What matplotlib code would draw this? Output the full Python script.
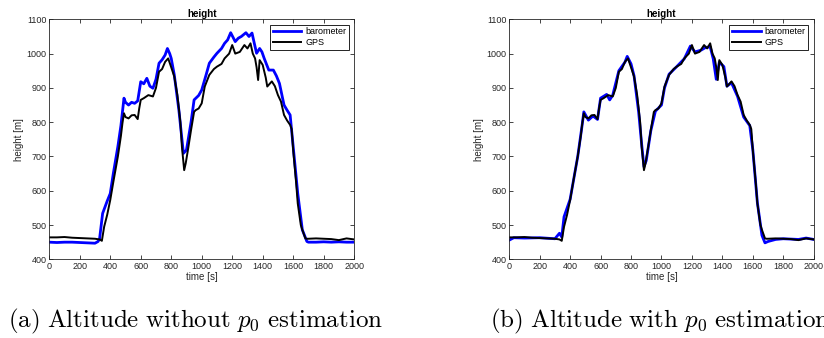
import matplotlib
matplotlib.use("Agg")
import matplotlib.pyplot as plt

plt.rcParams['font.family'] = ['Liberation Sans', 'DejaVu Sans']
plt.rcParams['mathtext.fontset'] = 'cm'

# GPS height (same in both panels)
t_gps = [0, 50, 100, 150, 200, 250, 300, 330, 345, 360, 380, 400, 420, 450, 470,
         480, 490, 500, 520, 540, 560, 580, 590, 600, 620, 650, 680, 700, 720, 740,
         760, 780, 800, 820, 840, 860, 870, 885, 895, 910, 930, 950, 960, 980, 1000,
         1020, 1050, 1080, 1100, 1130, 1150, 1180, 1200, 1220, 1250, 1280, 1300, 1320,
         1335, 1350, 1360, 1370, 1380, 1400, 1420, 1430, 1460, 1480, 1500, 1520, 1540,
         1560, 1580, 1590, 1600, 1620, 1630, 1650, 1660, 1680, 1690, 1700, 1750, 1800,
         1850, 1900, 1950, 2000]
h_gps = [464, 464, 465, 463, 462, 461, 460, 458, 454, 495, 530, 573, 625, 700, 760,
         797, 826, 815, 811, 820, 821, 809, 840, 865, 870, 879, 875, 900, 947, 955,
         976, 986, 960, 933, 880, 800, 729, 660, 680, 720, 777, 830, 835, 840, 855,
         904, 938, 955, 962, 970, 986, 1000, 1025, 1000, 1005, 1025, 1015, 1030,
         1000, 986, 960, 923, 981, 967, 930, 904, 919, 905, 879, 860, 821, 805, 792,
         780, 719, 620, 563, 500, 486, 461, 460, 460, 461, 460, 459, 456, 461, 458]

# barometer without p0 estimation
t_baro_a = [0, 50, 100, 150, 200, 250, 300, 320, 330, 350, 380, 400, 420, 450, 470,
            490, 500, 520, 540, 560, 580, 600, 620, 640, 660, 680, 700, 720, 740, 760,
            775, 790, 800, 820, 850, 880, 900, 930, 950, 980, 1000, 1030, 1050, 1080,
            1100, 1130, 1150, 1170, 1190, 1220, 1240, 1260, 1290, 1310, 1330, 1345,
            1360, 1380, 1395, 1410, 1440, 1470, 1490, 1510, 1540, 1560, 1580, 1600,
            1630, 1660, 1690, 1700, 1750, 1800, 1850, 1900, 1950, 2000]
h_baro_a = [450, 449, 450, 450, 449, 448, 447, 452, 460, 534, 570, 592, 650, 729, 790,
            870, 858, 850, 858, 855, 862, 918, 912, 928, 905, 899, 925, 972, 982, 996,
            1015, 1000, 986, 938, 836, 709, 719, 800, 865, 878, 894, 940, 972, 990,
            1001, 1015, 1030, 1040, 1061, 1035, 1045, 1050, 1061, 1050, 1060, 1030,
            1001, 1015, 1005, 986, 952, 952, 935, 913, 850, 835, 821, 729, 592, 486,
            452, 450, 450, 451, 450, 451, 450, 450]

# barometer with p0 estimation
t_baro_b = [0, 30, 100, 200, 300, 330, 345, 360, 400, 450, 480, 490, 520, 550, 580,
            600, 640, 660, 680, 720, 760, 775, 800, 820, 850, 870, 885, 900, 930, 960,
            1000, 1020, 1050, 1100, 1150, 1190, 1220, 1260, 1290, 1320, 1340, 1360,
            1380, 1410, 1430, 1460, 1500, 1540, 1580, 1600, 1630, 1660, 1680, 1700,
            1750, 1800, 1900, 1950, 2000]
h_baro_b = [456, 463, 462, 463, 460, 476, 465, 524, 575, 700, 795, 830, 806, 818, 808,
            870, 881, 865, 879, 950, 975, 992, 970, 935, 830, 735, 670, 688, 775, 832,
            850, 900, 940, 962, 985, 1022, 1005, 1010, 1018, 1020, 985, 925, 975, 962,
            905, 915, 875, 815, 790, 720, 565, 470, 448, 452, 458, 460, 458, 462, 458]

fig = plt.figure(figsize=(8.24, 3.38), dpi=100)
ax_a = fig.add_axes([0.0598, 0.2328, 0.370, 0.710])
ax_b = fig.add_axes([0.618, 0.2328, 0.3695, 0.710])

grey = (0.15, 0.15, 0.15)
for ax, tb, hb in [(ax_a, t_baro_a, h_baro_a), (ax_b, t_baro_b, h_baro_b)]:
    ax.plot(tb, hb, color='blue', linewidth=2.0, label='barometer')
    ax.plot(t_gps, h_gps, color='black', linewidth=1.4, label='GPS')
    ax.set_xlim(0, 2000)
    ax.set_ylim(400, 1100)
    ax.set_xticks(range(0, 2001, 200))
    ax.set_yticks(range(400, 1101, 100))
    ax.tick_params(direction='in', top=True, right=True, labelsize=6.5,
                   colors=grey, length=3, width=0.6, pad=2)
    for s in ax.spines.values():
        s.set_color(grey)
        s.set_linewidth(0.6)
    ax.set_title('height', fontsize=7, fontweight='bold', pad=2)
    ax.set_xlabel('time [s]', fontsize=7, color=grey, labelpad=1)
    ax.set_ylabel('height [m]', fontsize=7, color=grey, labelpad=2)
    leg = ax.legend(loc='upper right', fontsize=6.5, fancybox=False,
                    edgecolor='black', framealpha=1, handlelength=3.2,
                    borderaxespad=0.6, borderpad=0.3, labelspacing=0.2,
                    handletextpad=0.4)
    leg.get_frame().set_linewidth(0.6)

fig.text(8 / 824, 1 - 321 / 338, r'$\mathrm{(a)\ Altitude\ without\ }p_0\mathrm{\ estimation}$',
         fontsize=18, va='center', ha='left')
fig.text(490 / 824, 1 - 321 / 338, r'$\mathrm{(b)\ Altitude\ with\ }p_0\mathrm{\ estimation}$',
         fontsize=18, va='center', ha='left')

fig.savefig('out.png', dpi=100)
